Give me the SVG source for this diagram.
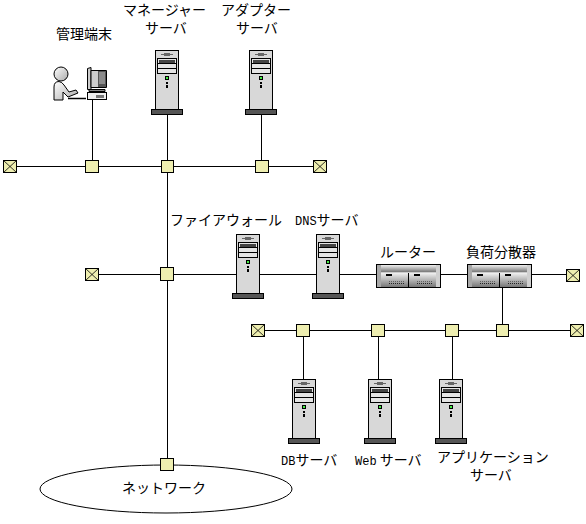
<svg xmlns="http://www.w3.org/2000/svg" width="586" height="524" viewBox="0 0 586 524">
<style>
.l{stroke:#000;stroke-width:1;fill:none;shape-rendering:crispEdges}
.j{fill:#eeeeb0;stroke:#000;stroke-width:1;shape-rendering:crispEdges}
.x{stroke:#000;stroke-width:.8;fill:none}
text{font-family:"Noto Sans CJK JP",sans-serif;font-size:14px;fill:#000}
.a{font-family:"Liberation Mono",monospace;font-size:12px}
</style>
<defs>
<linearGradient id="g" x1="0" y1="0" x2="0" y2="1"><stop offset="0" stop-color="#f0f0f0"/><stop offset="1" stop-color="#777"/></linearGradient>
<linearGradient id="h" x1="0" y1="0" x2="1" y2="1"><stop offset="0" stop-color="#fff"/><stop offset="1" stop-color="#aaa"/></linearGradient>
<symbol id="srv" width="32" height="66" viewBox="0 0 32 66" overflow="visible">
<g shape-rendering="crispEdges">
<rect x="4.500" y=".5" width="23" height="59" fill="#d8d8d8" stroke="#000"/>
<path d="M10 4.500H22" stroke="#666"/><rect x="13" y="3" width="6" height="3" fill="#666"/>
<rect x="6.500" y="8.500" width="19" height="15" fill="#e4e4e4" stroke="#000"/>
<path d="M6.500 13.500H25.500M6.500 18.500H25.500" stroke="#000"/>
<rect x="8" y="10" width="16" height="2.500" fill="#444"/>
<rect x="14.500" y="26.500" width="3" height="3" fill="#4e4" stroke="#000"/>
<rect x="15" y="32" width="2" height="2"/><rect x="15" y="35" width="2" height="3"/>
<rect x="0.500" y="59.500" width="31" height="5" fill="#555" stroke="#000"/>
</g>
</symbol>
<symbol id="sw" width="65" height="24" viewBox="0 0 65 24">
<g shape-rendering="crispEdges">
<rect x=".5" y=".5" width="64" height="23" fill="#ccc" stroke="#000"/>
<rect x="5" y="1" width="55" height="7" fill="url(#g)"/>
<rect x="5" y="9" width="27" height="14" fill="url(#g)"/><rect x="33" y="9" width="27" height="14" fill="url(#g)"/>
<rect x="1" y="1" width="4" height="22" fill="#a8a8a8"/><rect x="60" y="1" width="4" height="22" fill="#d0d0d0"/>
<path d="M32.500 9V23" stroke="#000"/>
<rect x="10" y="10" width="6" height="2"/><rect x="38" y="10" width="6" height="2"/>
<path d="M13 19.500H29M41 19.500H57" stroke="#222" stroke-dasharray="1 1"/>
<path d="M13 17.500H29M41 17.500H57" stroke="#333" stroke-dasharray="1 1" opacity=".6"/>
</g>
</symbol>
</defs>
<g id="connectors">
<path class="l" d="M10 166.500H320M92 274.500H573M258 330.500H577M167.500 115V465M92.500 100V166M261.500 115V166M502.500 288V330M303.500 330V379M378.500 330V379M452.500 330V379"/>
</g>
<g id="network"><ellipse cx="166" cy="489" rx="126" ry="24" fill="#fff" stroke="#000"/><text x="122" y="493">ネットワーク</text></g>
<g id="admin"><text x="56" y="39">管理端末</text>
<circle cx="61" cy="74" r="7" fill="url(#h)" stroke="#000"/>
<path d="M54 100V87Q54 81.500 59 81.500Q62 82 64 85L69 92L76 90L78 93L68 97L63 92V100Z" fill="url(#h)" stroke="#000"/>
<path d="M68 98.500H86" stroke="#000" stroke-width="1.500"/>
<path d="M87.500 68.500L91 67.500V89.500H87.500Z" fill="#ccc" stroke="#000"/>
<path d="M91 70.500H106.500V87.500H91Z" fill="#ccc" stroke="#000"/>
<path d="M98 71H106V87H98Z" fill="#555"/>
<path d="M99 73H105M99 75H105M99 77H105M99 79H105M99 81H105M99 83H105" stroke="#ddd" stroke-width=".8"/>
<path d="M89 89.500H105V91.500H89Z" fill="#888" stroke="#000"/>
<rect x="87.500" y="92.500" width="19" height="7" fill="#eee" stroke="#000" shape-rendering="crispEdges"/>
<path d="M97 95V98M99 95V98M101 95V98M103 95V98" stroke="#000"/>
</g>
<g id="manager"><text x="123" y="15">マネージャー</text><text x="145" y="33">サーバ</text><use href="#srv" x="151" y="50"/></g>
<g id="adapter"><text x="221" y="15">アダプター</text><text x="236" y="33">サーバ</text><use href="#srv" x="245" y="50"/></g>
<g id="firewall"><text x="170" y="225">ファイアウォール</text><use href="#srv" x="232" y="234"/></g>
<g id="dns"><text x="295" y="225"><tspan class="a">DNS</tspan>サーバ</text><use href="#srv" x="312" y="234"/></g>
<g id="router"><text x="380" y="257">ルーター</text><use href="#sw" x="376" y="264"/></g>
<g id="lb"><text x="466" y="257">負荷分散器</text><use href="#sw" x="467" y="264"/></g>
<g id="db"><text x="281" y="465"><tspan class="a">DB</tspan>サーバ</text><use href="#srv" x="288" y="379"/></g>
<g id="web"><text x="355" y="465"><tspan class="a">Web</tspan> サーバ</text><use href="#srv" x="364" y="379"/></g>
<g id="app"><text x="437" y="462">アプリケーション</text><text x="470" y="480">サーバ</text><use href="#srv" x="435" y="379"/></g>
<g id="junctions">
<rect class="j" x="85.500" y="160.500" width="13" height="12"/>
<rect class="j" x="161.500" y="160.500" width="12" height="12"/>
<rect class="j" x="255.500" y="160.500" width="13" height="12"/>
<rect class="j" x="160.500" y="267.500" width="13" height="13"/>
<rect class="j" x="296.500" y="324.500" width="13" height="12"/>
<rect class="j" x="371.500" y="324.500" width="13" height="12"/>
<rect class="j" x="445.500" y="324.500" width="13" height="12"/>
<rect class="j" x="496.500" y="324.500" width="12" height="12"/>
<rect class="j" x="160.500" y="458.500" width="13" height="12"/>
</g>
<g id="terminals">
<rect class="j" x="3.500" y="160.500" width="13" height="12"/><path class="x" d="M3.500 160.500L16.500 172.500M16.500 160.500L3.500 172.500"/>
<rect class="j" x="313.500" y="160.500" width="13" height="12"/><path class="x" d="M313.500 160.500L326.500 172.500M326.500 160.500L313.500 172.500"/>
<rect class="j" x="85.500" y="268.500" width="13" height="12"/><path class="x" d="M85.500 268.500L98.500 280.500M98.500 268.500L85.500 280.500"/>
<rect class="j" x="566.500" y="269.500" width="13" height="12"/><path class="x" d="M566.500 269.500L579.500 281.500M579.500 269.500L566.500 281.500"/>
<rect class="j" x="251.500" y="324.500" width="13" height="12"/><path class="x" d="M251.500 324.500L264.500 336.500M264.500 324.500L251.500 336.500"/>
<rect class="j" x="570.500" y="324.500" width="13" height="12"/><path class="x" d="M570.500 324.500L583.500 336.500M583.500 324.500L570.500 336.500"/>
</g>
</svg>
